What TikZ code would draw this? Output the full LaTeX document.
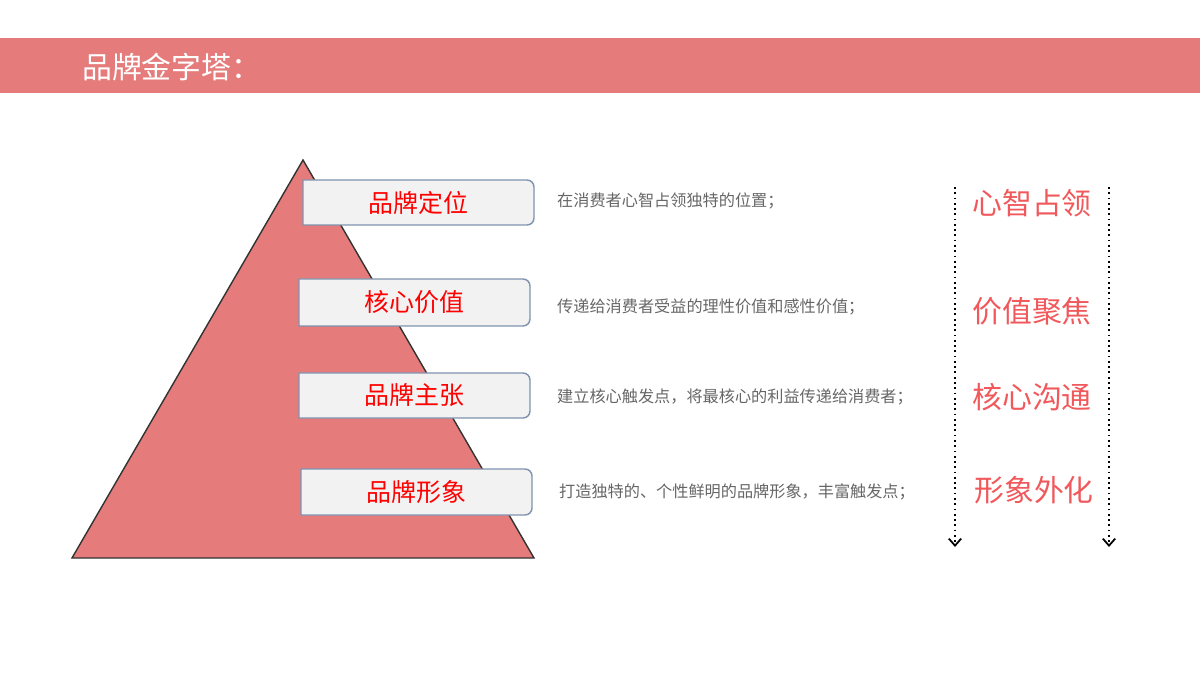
\documentclass[tikz,border=0pt]{standalone}
\usepackage{fontspec}
\newfontfamily\cjk{Noto Sans CJK SC}
\usetikzlibrary{arrows.meta}
\definecolor{band}{HTML}{E57B7B}
\definecolor{lab}{HTML}{F0585B}
\definecolor{bord}{HTML}{7F93AE}
\tikzset{
 lvl/.style={draw=bord,line width=0.8pt,fill=black!5,rounded corners=0pt},
 lvltxt/.style={text=red,font=\cjk\fontsize{14.2}{16}\selectfont},
 desc/.style={anchor=west,text=black!60,font=\cjk\fontsize{9.2}{11}\selectfont},
 tag/.style={text=lab,font=\cjk\fontsize{17}{19}\selectfont},
 dotarr/.style={dotted,line width=1pt,-{Straight Barb[length=4pt,width=7pt]}}
}
\begin{document}
\begin{tikzpicture}[x=0.02cm,y=-0.02cm]
\useasboundingbox (0,0) rectangle (1200,675);
\fill[band] (0,38) rectangle (1200,93);
\node[anchor=west,text=white,font=\cjk\fontsize{17}{19}\selectfont] (title) at (76,67) {品牌金字塔：};
\draw[fill=band,draw=black!80,line width=0.8pt] (303,160) -- (534,558) -- (72,558) -- cycle;
\foreach \n/\xa/\ya/\xb/\yb/\t in {b1/303/180/534/225/品牌定位, b2/299/279/530/326/核心价值, b3/299/373/530/418/品牌主张, b4/301/469/532/515/品牌形象}{
 \draw[lvl] (\xa,\yb) -- (\xa,\ya) [rounded corners=4pt]-- (\xb,\ya) -- (\xb,\yb) [rounded corners=0pt]-- cycle;
 \node[lvltxt] (\n) at ({(\xa+\xb)/2},{(\ya+\yb)/2}) {\t};
}
\node[desc] (d1) at (551,201) {在消费者心智占领独特的位置；};
\node[desc] (d2) at (551,307) {传递给消费者受益的理性价值和感性价值；};
\node[desc] (d3) at (551,397) {建立核心触发点，将最核心的利益传递给消费者；};
\node[desc] (d4) at (553,492) {打造独特的、个性鲜明的品牌形象，丰富触发点；};
\node[tag] (t1) at (1032,203) {心智占领};
\node[tag] (t2) at (1032,311) {价值聚焦};
\node[tag] (t3) at (1032,397) {核心沟通};
\node[tag] (t4) at (1034,490) {形象外化};
\coordinate (a1s) at (955,187); \coordinate (a1e) at (955,547);
\coordinate (a2s) at (1109,187); \coordinate (a2e) at (1109,547);
\draw[dotarr] (a1s) -- (a1e);
\draw[dotarr] (a2s) -- (a2e);
\end{tikzpicture}
\end{document}
